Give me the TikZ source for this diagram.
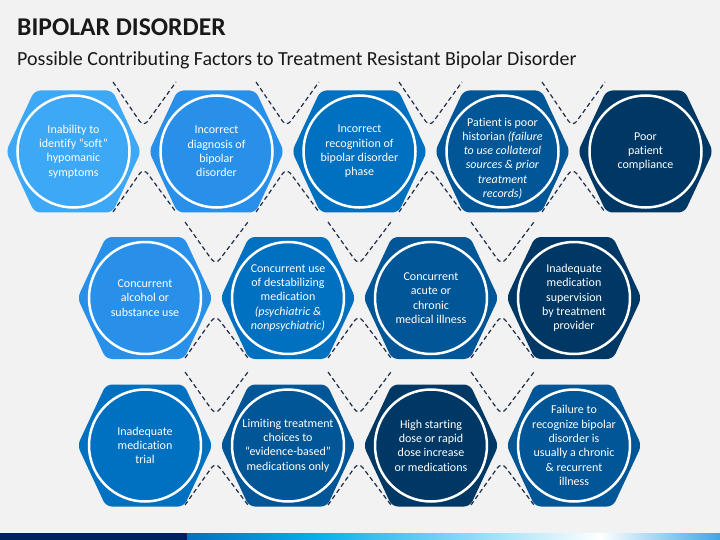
\documentclass[tikz,border=0pt]{standalone}
\usepackage{fontspec}
\setmainfont{Carlito}[Ligatures=NoCommon]
\definecolor{bg}{HTML}{F2F2F2}
\definecolor{hexA}{HTML}{3DA8F5}
\definecolor{hexB}{HTML}{2990EA}
\definecolor{hexC}{HTML}{0070C0}
\definecolor{hexD}{HTML}{005696}
\definecolor{hexE}{HTML}{003865}
\definecolor{gapcol}{HTML}{1F2D4A}
\definecolor{barnavy}{HTML}{002060}
\definecolor{barblue}{HTML}{0070C0}
\definecolor{barcyan}{HTML}{0AB0EE}
\definecolor{barend}{HTML}{3EA5E6}
\tikzset{
  hexlabel/.style={text=white, align=center, font=\fontsize{12}{14.3}\selectfont},
  ring/.style={white, line width=2.5pt},
  gapline/.style={gapcol, line width=1.2pt, dash pattern=on 4.5pt off 3pt, rounded corners=7pt},
}
\begin{document}
\begin{tikzpicture}[x=1pt,y=-1pt]
\fill[bg] (0,0) rectangle (720,540);
\node[anchor=base west, inner sep=0pt, font=\bfseries\fontsize{25.6}{30}\selectfont, text=black!90] (title) at (17,36) {BIPOLAR DISORDER};
\node[anchor=base west, inner sep=0pt, font=\fontsize{20}{24}\selectfont, text=black!90] (subtitle) at (17,66) {Possible Contributing Factors to Treatment Resistant Bipolar Disorder};
% dashed gaps between the cells
\foreach \gx in {144.5,287.5,430.5,573.5}{
  \draw[gapline] (\gx-31.5,82) -- (\gx-1,127) -- (\gx+31.5,82);
  \draw[gapline] (\gx-31.5,212) -- (\gx-1,168) -- (\gx+31.5,212);
}
\foreach \gx in {216.5,359.5,502.5}{
  \draw[gapline] (\gx-31.5,222) -- (\gx-1,265) -- (\gx+31.5,222);
  \draw[gapline] (\gx-31.5,358) -- (\gx-1,315) -- (\gx+31.5,358);
  \draw[gapline] (\gx-31.5,372) -- (\gx-1,415) -- (\gx+31.5,372);
  \draw[gapline] (\gx-31.5,505) -- (\gx-1,462) -- (\gx+31.5,505);
}
% cells
\foreach \cx/\cy/\dy/\col/\nm/\txt in {
  73.5/151.5/0/hexA/t1/{Inability to\\identify “soft”\\hypomanic\\symptoms},
  216.5/151.5/0/hexB/t2/{Incorrect\\diagnosis of\\bipolar\\disorder},
  359.5/151.5/0/hexC/t3/{Incorrect\\recognition of\\bipolar disorder\\phase},
  502.5/151.5/7/hexD/t4/{Patient is poor\\historian \textit{(failure}\\\textit{to use collateral}\\\textit{sources \& prior}\\\textit{treatment}\\\textit{records)}},
  645.5/151.5/0/hexE/t5/{Poor\\patient\\compliance},
  145/298/0/hexB/m1/{Concurrent\\alcohol or\\substance use},
  288/298/0/hexC/m2/{Concurrent use\\of destabilizing\\medication\\\textit{(psychiatric \&}\\\textit{nonpsychiatric)}},
  431/298/0/hexD/m3/{Concurrent\\acute or\\chronic\\medical illness},
  574/298/0/hexE/m4/{Inadequate\\medication\\supervision\\by treatment\\provider},
  145/445.5/0/hexC/b1/{Inadequate\\medication\\trial},
  288/445.5/0/hexD/b2/{Limiting treatment\\choices to\\“evidence-based”\\medications only},
  431/445.5/0/hexE/b3/{High starting\\dose or rapid\\dose increase\\or medications},
  574/445.5/0/hexD/b4/{Failure to\\recognize bipolar\\disorder is\\usually a chronic\\\& recurrent\\illness}}{
  \fill[\col, rounded corners=6pt] (\cx-67.5,\cy) -- (\cx-39,\cy-61) -- (\cx+39,\cy-61)
    -- (\cx+67.5,\cy) -- (\cx+39,\cy+61) -- (\cx-39,\cy+61) -- cycle;
  \draw[ring] (\cx,\cy) circle[radius=56pt];
  \node[hexlabel] (\nm) at (\cx,\cy+\dy) {\txt};
}
% bottom bar
\fill[barnavy] (0,533) rectangle (187,540);
\shade[left color=barblue, right color=barcyan] (187,533) rectangle (321,540);
\shade[left color=barcyan, right color=white] (321,533) rectangle (600,540);
\shade[left color=white, right color=barend] (600,533) rectangle (720,540);
\end{tikzpicture}
\end{document}
